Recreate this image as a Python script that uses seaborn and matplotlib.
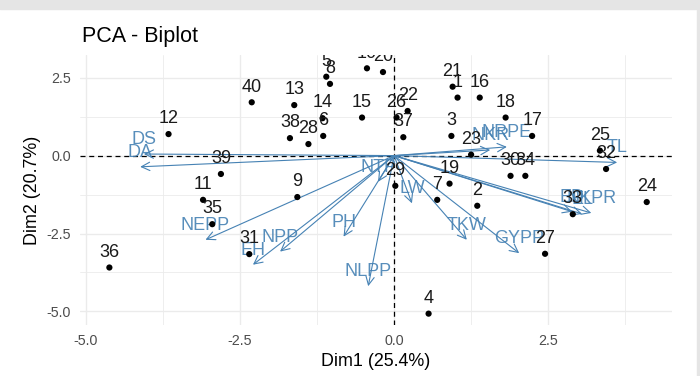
import matplotlib
matplotlib.use("Agg")
import matplotlib.pyplot as plt
import seaborn as sns
import pandas as pd
from matplotlib.patches import Rectangle
from matplotlib.ticker import MultipleLocator

# individuals (scores on Dim1 / Dim2)
ind_names = [str(i) for i in range(1, 41)]
dim1 = [1.03, 1.35, 0.93, 0.56, -1.10, -1.15, 0.70, -1.04, -1.57, -0.44,
        -3.10, -3.66, -1.62, -1.16, -0.52, 1.39, 2.24, 1.81, 0.90, -0.18,
        0.95, 0.22, 1.25, 4.10, 3.34, 0.04, 2.45, -1.39, 0.02, 1.89,
        -2.35, 3.44, 2.90, 2.13, -2.95, -4.62, 0.15, -1.69, -2.81, -2.31]
dim2 = [1.86, -1.61, 0.63, -5.07, 2.53, 0.63, -1.42, 2.30, -1.33, 2.80,
        -1.42, 0.69, 1.62, 1.20, 1.22, 1.86, 0.63, 1.22, -0.90, 2.68,
        2.21, 1.43, 0.03, -1.49, 0.16, 1.22, -3.15, 0.37, -0.97, -0.65,
        -3.16, -0.43, -1.88, -0.65, -2.20, -3.59, 0.59, 0.56, -0.59, 1.71]

# variables (arrow tips)
var_names = ["DS", "DA", "NEPP", "EH", "NPP", "PH", "NLPP", "NTP", "LW",
             "TKW", "GYPP", "ED", "EL", "NKPR", "TL", "NKR", "NRPE"]
var_x = [-4.06, -4.12, -3.06, -2.29, -1.85, -0.82, -0.42, -0.26, 0.29,
         1.18, 2.03, 2.89, 3.05, 3.20, 3.62, 1.56, 1.83]
var_y = [0.05, -0.36, -2.70, -3.50, -3.08, -2.60, -4.19, -0.84, -1.53,
         -2.70, -3.13, -1.80, -1.87, -1.84, -0.22, 0.18, 0.28]

ind = pd.DataFrame({"name": ind_names, "Dim1": dim1, "Dim2": dim2})
var = pd.DataFrame({"name": var_names, "x": var_x, "y": var_y})

sns.set_style("white")
plt.rcParams["font.family"] = ["Liberation Sans", "DejaVu Sans"]

fig = plt.figure(figsize=(7, 3.76), dpi=100)
ax = fig.add_axes([0.114, 0.136, 0.846, 0.718])

blue = "#4682B4"

# reference lines
ax.axhline(0, color="black", lw=0.9, ls=(0, (4, 3)), zorder=1)
ax.axvline(0, color="black", lw=0.9, ls=(0, (4, 3)), zorder=1)

# individuals
sns.scatterplot(data=ind, x="Dim1", y="Dim2", color="black", s=20,
                edgecolor="none", ax=ax, zorder=3)
for _, r in ind.iterrows():
    ax.annotate(r["name"], (r["Dim1"], r["Dim2"]), xytext=(0, 11),
                textcoords="offset points", ha="center", va="center",
                fontsize=13, color="#1a1a1a", clip_on=True, zorder=4)

# variables
for _, r in var.iterrows():
    ax.annotate("", xy=(r["x"], r["y"]), xytext=(0, 0),
                arrowprops=dict(arrowstyle="->,head_length=0.6,head_width=0.3",
                                color=blue, lw=0.8, shrinkA=0, shrinkB=0,
                                mutation_scale=10), zorder=2)
    ax.annotate(r["name"], (r["x"], r["y"]), xytext=(0, 10.5),
                textcoords="offset points", ha="center", va="center",
                fontsize=13, color=blue, alpha=0.9, clip_on=True, zorder=2)

ax.set_xlim(-5.10, 4.51)
ax.set_ylim(-5.43, 3.23)
ax.xaxis.set_major_locator(MultipleLocator(2.5))
ax.yaxis.set_major_locator(MultipleLocator(2.5))
ax.xaxis.set_minor_locator(MultipleLocator(1.25))
ax.yaxis.set_minor_locator(MultipleLocator(1.25))
ax.grid(which="major", color="#ebebeb", lw=1.0)
ax.grid(which="minor", color="#ebebeb", lw=0.6)
ax.set_axisbelow(True)
for s in ax.spines.values():
    s.set_visible(False)
ax.tick_params(which="major", length=3.5, width=0.8, color="#333333",
               labelsize=10.3, labelcolor="#4d4d4d", pad=3)
ax.tick_params(which="minor", length=0)
ax.xaxis.set_major_formatter(matplotlib.ticker.FormatStrFormatter("%.1f"))
ax.yaxis.set_major_formatter(matplotlib.ticker.FormatStrFormatter("%.1f"))

ax.set_xlabel("Dim1 (25.4%)", fontsize=12.9, color="black", labelpad=4)
ax.set_ylabel("Dim2 (20.7%)", fontsize=12.9, color="black", labelpad=4)
fig.text(0.117, 0.902, "PCA - Biplot", fontsize=15.5, color="black",
         ha="left", va="center")

# screenshot border bands
fig.patches.append(Rectangle((0, 0.976), 1, 0.024, transform=fig.transFigure,
                             color="#e5e5e5", zorder=0))
fig.patches.append(Rectangle((0.9957, 0), 0.0043, 1, transform=fig.transFigure,
                             color="#e5e5e5", zorder=0))

fig.savefig("out.png", dpi=100)
